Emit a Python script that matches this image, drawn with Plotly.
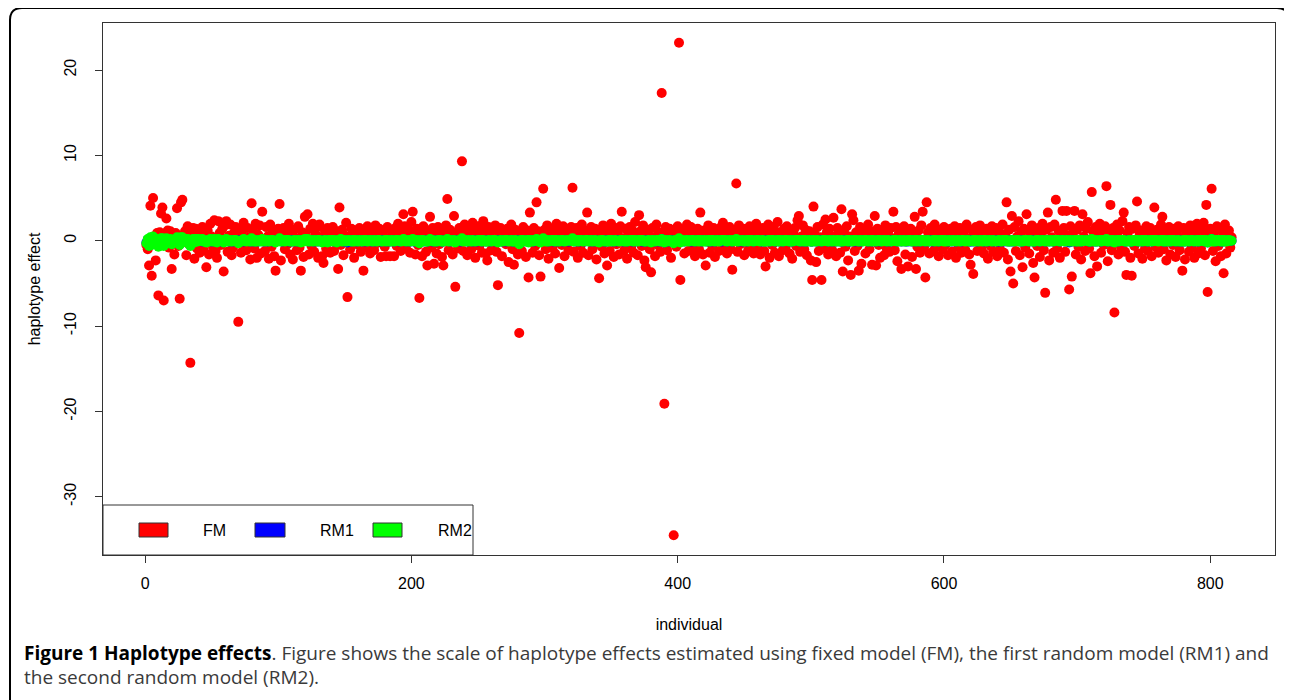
import plotly.graph_objects as go

# ---------------- data ----------------
fm = [
    -0.5, -1.0, -2.9, 4.1, -4.1, 5.0, 0.3, -2.3, 0.9, -6.4, 1.0, 3.2, 3.9, -7.0, 0.6, 2.6, 1.2, -0.8, 1.1, -3.3,
    0.4, -1.6, 0.9, 3.8, -0.6, -6.8, 4.5, 4.8, 0.7, 1.1, -1.7, 1.7, -0.4, -14.3, 0.8, 1.5, -2.1, 1.4, -0.9, 1.3,
    -1.4, 0.6, 1.6, -1.1, 0.3, -3.1, 1.2, -1.6, 2.0, 0.5, -0.7, 2.4, -1.2, -2.0, 2.3, 0.9, -0.5, 1.4, -3.6, 1.8,
    2.3, -1.3, 0.6, 1.9, -1.7, -0.8, 1.0, 1.6, -0.3, -9.5, 0.8, -1.4, 1.2, 2.1, -0.6, -1.1, 1.5, 0.4, -2.2, 4.4,
    1.3, -0.9, 2.0, -2.0, 0.7, 1.8, -1.5, 3.4, 0.2, -1.2, 1.6, 0.5, -2.1, 1.9, -0.7, 1.1, -1.8, -3.5, 0.9, 1.4,
    4.3, -2.3, 0.8, 1.5, -1.0, 1.2, -0.4, 2.0, -1.6, 0.6, -2.2, 1.3, 0.3, -1.1, 1.7, -0.8, -3.5, 1.0, -1.9, 2.8,
    0.5, 3.1, -1.6, 1.4, -0.6, 2.0, -1.3, 0.8, 1.6, -2.0, 1.9, 0.4, -1.8, -2.6, 1.2, -0.9, 1.5, 0.2, -1.4, 0.9,
    1.6, -1.2, 0.7, 1.1, -3.3, 3.9, -0.5, 1.3, -1.7, 0.6, 2.1, -6.6, 0.3, -1.0, 1.4, 0.9, -2.0, 1.2, -0.4, 0.8,
    1.5, -1.3, 0.5, -3.5, 1.0, -0.8, 1.7, 0.2, -1.5, 1.3, 0.6, -1.1, 1.8, -0.3, 0.9, 1.4, -1.9, 0.4, 1.1, -0.7,
    -1.8, 1.6, 0.3, -1.8, 1.2, 0.8, -1.8, 1.5, -0.6, 2.0, 1.1, -1.2, 0.5, 3.1, 1.7, -0.9, 0.7, 1.3, -1.4, 2.2,
    3.4, 0.6, -1.6, 1.4, -0.5, -6.7, 1.0, -1.8, 1.7, 0.3, -1.3, -2.9, 1.2, 2.8, -0.8, 1.5, -2.7, 0.9, -1.5, 1.6,
    -0.4, 1.2, -1.9, -2.9, 0.7, 1.8, 4.9, -1.1, 1.3, 0.4, -1.6, 2.9, -5.4, 1.0, -0.9, 1.5, 0.6, 9.3, -1.2, 1.9,
    0.8, -1.7, 1.4, 0.2, -1.0, 2.1, 1.1, -2.0, 0.5, 1.7, -0.6, 1.3, -1.4, 2.3, 0.9, -1.5, -2.3, 1.6, 0.4, -1.1,
    1.2, -0.7, 1.8, -1.3, -5.2, 0.6, 1.5, -1.8, 0.9, 1.1, -0.4, 1.4, -2.5, 0.7, 1.9, -1.0, -2.8, 1.3, 0.3, -1.6,
    -10.8, 1.0, -1.2, 1.6, 0.5, -1.9, 1.2, -4.3, 3.3, 0.8, -1.4, 1.5, -0.6, 4.5, 1.1, -1.7, -4.2, 0.4, 6.1, 1.3,
    -1.0, 1.8, -2.1, 0.6, 1.4, -0.8, 1.0, -1.5, 2.0, 0.3, -3.2, 1.2, -0.5, 1.7, -1.8, 0.9, 1.3, -1.1, 0.5, 1.6,
    6.2, -1.3, 0.7, 1.5, -2.0, 1.1, -0.6, 1.9, -1.4, 0.4, 1.2, 3.3, -1.7, 0.8, 1.6, -1.0, 0.2, 1.4, -2.2, 0.9,
    -4.4, 1.3, -0.7, 1.8, -1.5, 0.5, -2.9, 1.1, -1.2, 2.0, 0.6, -1.9, 1.5, -0.4, 1.0, -1.6, 1.7, 3.4, 0.3, -1.1,
    1.4, -2.1, 0.9, 1.6, -0.8, 1.2, -1.4, 2.2, 0.5, -1.7, 3.0, 1.1, -0.6, 1.8, -2.3, -3.1, 0.7, 1.3, -1.0, -3.7,
    1.5, 0.4, -1.8, 1.9, -0.5, 1.0, -1.3, 17.3, 0.8, -19.1, 1.6, -1.1, 0.6, 1.4, -2.0, 0.9, -34.5, 1.2, -0.7, 1.7,
    23.2, -4.6, 0.5, 1.3, -1.5, 0.8, 1.9, -1.2, 0.3, 1.6, -0.9, 1.1, -1.8, 0.7, 1.4, -1.0, 3.3, 0.4, -1.6, 1.2,
    -2.9, 0.6, 1.8, -1.4, 1.0, -0.6, 1.5, -1.9, 0.9, 1.3, -1.2, 0.4, 1.7, 2.1, -0.8, 1.1, -1.5, 0.7, 1.6, -1.0,
    -3.4, 1.2, 0.5, 6.7, -1.3, 1.8, -0.4, 0.9, 1.4, -1.7, 0.6, 1.0, -1.1, 1.7, -0.7, 1.3, -1.5, 0.8, 2.0, -0.9,
    1.1, -1.6, 0.4, 1.5, -1.2, -3.0, 0.7, 1.9, -2.0, 1.2, -0.5, 1.6, -1.4, 0.9, 2.2, -1.8, 1.0, 0.3, -1.1, 1.4,
    -0.8, 1.7, 0.6, -1.5, 1.2, -2.1, 0.9, 1.5, -0.6, 2.4, 2.9, -1.3, 0.5, 1.8, -1.0, 1.3, -1.7, 0.8, 1.1, -2.3,
    -4.6, 4.0, 0.7, -2.5, 1.6, -1.2, 0.4, -4.6, 1.9, -0.9, 2.5, 1.0, -1.6, 1.4, 0.6, -1.1, 2.7, 0.3, -1.8, 1.5,
    0.9, -1.4, 3.7, -3.6, 1.2, -0.7, 1.7, -2.3, 0.5, -4.0, 3.1, 2.4, -1.2, 1.0, -0.6, -3.5, 1.6, -2.7, 0.8, 1.3,
    -1.5, 0.4, 1.9, -1.0, 1.1, -2.8, 0.7, 2.9, -2.9, 1.4, -0.5, -2.0, 1.2, 0.6, -1.7, 1.8, -0.9, 1.0, -1.3, 1.5,
    0.3, 3.4, -1.1, 1.6, -2.4, 0.8, 1.3, -3.3, 0.5, 1.7, -1.6, 1.1, -3.0, 0.9, 1.4, -1.9, 0.6, 2.8, -3.3, -0.7,
    1.2, -1.4, 1.8, 3.4, -0.8, -4.3, 4.5, 1.0, -1.5, 1.5, 0.4, -1.2, 1.9, -0.6, 1.1, -1.8, 0.7, 1.3, -1.0, 1.6,
    -0.5, 1.2, -1.7, 0.8, 1.4, -1.3, 0.5, 1.7, -2.0, 1.0, -0.7, 1.5, -1.4, 0.6, 1.1, -1.1, 1.9, 0.3, -1.6, -2.8,
    1.3, -3.9, 0.9, 1.6, -1.2, 0.5, 1.8, -0.9, 1.2, -1.5, 0.7, 1.4, -2.1, 1.0, -0.6, 1.7, -1.3, 0.4, 1.5, -1.8,
    1.1, -1.0, 0.6, 1.9, -1.4, 0.8, 4.5, -2.2, 1.3, -3.6, 2.9, -5.0, 1.6, -1.2, 0.5, 2.3, -1.7, 1.0, -3.1, 1.4,
    -0.8, 3.1, 1.2, -1.5, 0.7, 1.8, -2.6, -4.3, 1.1, -0.6, 1.5, -1.9, 0.9, 2.0, -1.1, -6.1, 1.3, 3.3, -2.3, 1.6,
    0.4, -1.4, 1.9, 4.8, -0.9, 1.2, -2.0, 0.8, 3.5, 1.5, -1.3, 3.5, 0.6, -5.7, 1.7, -4.2, 1.0, 3.5, -1.6, 1.3,
    -0.7, 1.8, -2.2, 3.1, 0.5, -1.2, 1.4, 2.2, -0.9, -3.8, 5.7, 1.1, -1.8, 1.6, -3.0, 0.8, 2.0, -1.4, 1.2, -0.5,
    1.7, 6.4, -2.4, 1.0, 4.2, -1.1, 1.5, -8.4, 0.6, 1.9, -1.6, 1.2, -0.8, 2.3, 3.3, -1.3, -4.0, 0.9, 1.6, -2.0,
    -4.1, 1.4, -0.6, 1.8, 4.6, -1.5, 0.7, 1.2, -2.1, 1.0, -0.9, 1.7, -1.2, 0.5, 1.5, -1.8, 1.1, 3.9, -0.7, 1.3,
    -1.4, 0.8, 1.9, 2.8, -1.0, 1.2, -2.3, 0.6, 1.6, -1.6, 1.0, -0.5, 1.4, -1.9, 0.9, 1.7, -1.1, 0.3, -3.5, 1.5,
    -2.2, 1.1, 0.7, -1.3, 1.8, -0.8, 1.3, -2.0, 0.6, 2.0, -1.5, 1.6, -0.9, 1.2, 2.1, -1.7, 4.2, -6.0, 0.8, 1.4,
    6.1, -1.2, 1.0, -2.4, 1.7, -0.6, 1.3, -1.8, 1.1, -3.8, 1.9, -1.5, 0.5, 1.2, -0.8, 0.4,
]

rm1 = [
    -0.2, 0.1, -0.4, 0.3, -0.4, 0.4, 0.0, -0.3, 0.1, -0.5, 0.1, 0.2, 0.2, -0.5, 0.0, 0.2, 0.1, -0.1, 0.1, -0.3,
    0.0, -0.1, 0.1, 0.3, 0.0, -0.4, 0.3, 0.3, 0.0, 0.1, -0.1, 0.1, 0.0, -0.5, 0.0, 0.1, -0.1, 0.1, 0.0, 0.1,
    0.0, 0.1, -0.1, 0.0, 0.1, -0.1, 0.0, 0.1, 0.0, -0.1, 0.1, 0.0, -0.1, 0.1, 0.0, 0.1, -0.1, 0.0, -0.1, 0.1,
    0.1, 0.0, -0.1, 0.0, 0.1, -0.1, 0.0, 0.1, -0.1, -0.2, 0.0, 0.1, 0.0, -0.1, 0.1, 0.0, 0.0, 0.1, -0.1, 0.2,
    0.0, -0.1, 0.1, 0.0, -0.1, 0.1, 0.0, 0.1, -0.1, 0.0, 0.1, -0.1, 0.0, 0.1, 0.0, -0.1, 0.0, -0.1, 0.1, 0.0,
    0.2, 0.0, -0.1, 0.1, 0.0, 0.0, 0.1, -0.1, 0.0, 0.1, -0.1, 0.0, 0.1, -0.1, 0.0, 0.1, -0.1, 0.0, 0.1, 0.1,
    0.0, 0.1, -0.1, 0.0, 0.1, 0.0, -0.1, 0.1, 0.0, -0.1, 0.1, 0.0, 0.0, -0.1, 0.1, 0.0, 0.1, -0.1, 0.0, 0.1,
    0.0, -0.1, 0.1, 0.0, -0.1, 0.1, 0.0, 0.1, -0.1, 0.0, 0.1, -0.2, 0.0, 0.1, -0.1, 0.0, 0.1, 0.0, -0.1, 0.1,
    0.1, 0.0, -0.1, 0.0, 0.1, -0.1, 0.0, 0.1, 0.0, -0.1, 0.0, 0.1, -0.1, 0.0, 0.1, 0.0, -0.1, 0.1, 0.0, 0.0,
    -0.1, 0.0, 0.1, -0.1, 0.0, 0.1, -0.1, 0.0, 0.1, 0.0, -0.1, 0.0, 0.1, 0.1, 0.0, -0.1, 0.1, 0.0, -0.1, 0.1,
    0.1, -0.1, 0.0, 0.1, 0.0, -0.2, 0.0, 0.1, -0.1, 0.0, 0.1, -0.1, 0.0, 0.1, 0.0, -0.1, 0.1, 0.0, -0.1, 0.1,
    0.0, 0.1, -0.1, -0.1, 0.0, 0.1, 0.1, 0.0, -0.1, 0.0, 0.1, 0.0, -0.1, 0.1, 0.0, 0.0, -0.1, 0.2, 0.0, 0.1,
    0.1, -0.1, 0.0, 0.1, 0.0, -0.1, 0.1, 0.0, -0.1, 0.0, 0.1, 0.0, -0.1, 0.1, 0.0, -0.1, 0.0, 0.1, -0.1, 0.0,
    0.0, 0.1, -0.1, 0.0, -0.1, 0.1, 0.0, -0.1, 0.1, 0.0, -0.1, 0.1, 0.0, 0.0, 0.1, -0.1, -0.1, 0.0, 0.1, 0.0,
    -0.3, 0.0, 0.1, -0.1, 0.0, 0.1, 0.0, -0.1, 0.1, 0.0, 0.0, -0.1, 0.1, 0.1, 0.0, -0.1, -0.1, 0.0, 0.2, 0.0,
    0.0, 0.1, -0.1, 0.0, 0.1, 0.0, -0.1, 0.0, 0.1, -0.1, 0.0, 0.1, 0.0, -0.1, 0.1, 0.0, 0.1, -0.1, 0.0, 0.1,
    0.2, 0.0, -0.1, 0.1, 0.0, -0.1, 0.1, 0.0, 0.0, -0.1, 0.1, 0.1, 0.0, -0.1, 0.1, 0.0, -0.1, 0.1, 0.0, -0.1,
    -0.1, 0.0, 0.1, 0.0, -0.1, 0.1, -0.1, 0.0, 0.1, 0.0, -0.1, 0.1, 0.0, -0.1, 0.1, 0.0, 0.1, 0.1, -0.1, 0.0,
    0.0, -0.1, 0.1, 0.0, 0.1, -0.1, 0.0, 0.1, -0.1, 0.0, 0.1, 0.0, -0.1, 0.1, -0.1, -0.1, 0.1, 0.0, 0.0, -0.1,
    0.0, 0.1, -0.1, 0.0, 0.1, -0.1, 0.0, 0.2, 0.1, -0.2, 0.0, 0.1, -0.1, 0.0, 0.1, -0.1, -0.2, 0.0, 0.1, 0.0,
    0.2, -0.1, 0.1, 0.0, -0.1, 0.1, 0.0, 0.0, 0.1, -0.1, 0.1, 0.0, -0.1, 0.1, 0.0, 0.0, 0.1, -0.1, 0.0, 0.1,
    0.0, -0.1, 0.0, 0.1, -0.1, 0.1, 0.0, -0.1, 0.1, 0.0, 0.0, 0.1, -0.1, 0.0, 0.1, 0.0, -0.1, 0.1, 0.0, 0.0,
    -0.1, 0.0, 0.1, 0.1, 0.0, -0.1, 0.1, 0.0, -0.1, 0.1, 0.0, -0.1, 0.0, 0.1, 0.0, 0.1, -0.1, 0.0, 0.1, 0.0,
    0.0, 0.1, -0.1, 0.0, 0.1, -0.1, 0.0, 0.1, -0.1, 0.0, 0.1, 0.0, -0.1, 0.1, 0.0, -0.1, 0.1, 0.0, -0.1, 0.1,
    0.1, 0.0, 0.0, -0.1, 0.1, -0.1, 0.0, 0.1, 0.0, 0.1, 0.0, -0.1, 0.1, 0.0, -0.1, 0.1, -0.1, 0.0, 0.1, -0.1,
    -0.1, 0.1, 0.0, -0.1, 0.0, 0.1, 0.0, -0.1, 0.1, 0.0, 0.1, 0.0, -0.1, 0.0, 0.1, -0.1, 0.1, 0.0, -0.1, 0.0,
    0.0, -0.1, 0.1, -0.1, 0.0, 0.1, 0.0, -0.1, 0.0, -0.1, 0.1, 0.0, -0.1, 0.1, 0.0, -0.1, 0.0, -0.1, 0.1, 0.0,
    0.1, 0.0, -0.1, 0.1, 0.0, -0.1, 0.0, 0.1, -0.1, 0.0, 0.1, -0.1, 0.0, 0.1, 0.0, 0.0, -0.1, 0.1, 0.0, -0.1,
    0.0, 0.1, 0.0, 0.0, -0.1, 0.1, 0.0, -0.1, 0.1, 0.0, -0.1, 0.1, -0.1, 0.0, 0.1, -0.1, 0.0, 0.1, -0.1, 0.0,
    0.1, -0.1, 0.0, 0.1, 0.0, -0.1, 0.1, 0.0, -0.1, 0.1, 0.0, -0.1, 0.1, 0.0, 0.1, -0.1, 0.0, 0.1, 0.0, 0.1,
    0.0, 0.1, -0.1, 0.0, 0.1, -0.1, 0.0, 0.1, -0.1, 0.0, 0.0, 0.1, -0.1, 0.0, 0.1, 0.0, 0.1, 0.0, -0.1, -0.1,
    0.1, -0.1, 0.0, 0.1, -0.1, 0.0, 0.1, 0.0, 0.1, -0.1, 0.0, 0.1, -0.1, 0.0, 0.0, 0.1, -0.1, 0.0, 0.1, -0.1,
    0.0, -0.1, 0.0, 0.1, -0.1, 0.0, 0.1, -0.1, 0.0, -0.1, 0.1, -0.1, 0.1, 0.0, 0.0, 0.1, -0.1, 0.0, -0.1, 0.1,
    0.0, 0.1, 0.0, -0.1, 0.0, 0.1, -0.1, -0.1, 0.0, 0.0, 0.1, -0.1, 0.0, 0.1, 0.0, -0.1, 0.0, 0.1, -0.1, 0.0,
    0.0, -0.1, 0.1, 0.1, 0.0, 0.1, -0.1, 0.0, 0.1, 0.1, -0.1, 0.1, 0.0, -0.2, 0.1, -0.1, 0.0, 0.1, -0.1, 0.0,
    0.0, 0.1, -0.1, 0.1, 0.0, 0.0, 0.1, 0.0, -0.1, -0.1, 0.1, 0.0, -0.1, 0.1, -0.1, 0.0, 0.1, -0.1, 0.0, 0.0,
    0.0, 0.1, -0.1, 0.0, 0.1, -0.1, 0.0, -0.1, 0.0, 0.1, -0.1, 0.0, 0.0, 0.1, 0.1, -0.1, -0.1, 0.0, 0.1, -0.1,
    -0.1, 0.0, 0.0, 0.1, 0.1, -0.1, 0.0, 0.0, -0.1, 0.1, 0.0, 0.1, -0.1, 0.0, 0.0, -0.1, 0.0, 0.1, 0.0, 0.1,
    0.0, 0.0, 0.1, 0.1, -0.1, 0.0, -0.1, 0.0, 0.1, -0.1, 0.0, 0.0, 0.1, -0.1, 0.0, 0.1, -0.1, 0.0, -0.1, 0.0,
    -0.1, 0.0, 0.0, -0.1, 0.1, 0.0, 0.1, -0.1, 0.0, 0.1, -0.1, 0.0, 0.0, 0.1, 0.1, -0.1, 0.1, -0.2, 0.0, 0.0,
    0.2, 0.0, 0.0, -0.1, 0.1, 0.0, 0.0, -0.1, 0.1, -0.1, 0.1, 0.0, 0.0, 0.0, 0.0, 0.0,
]

rm2 = [
    -0.3, 0.2, -0.6, 0.4, -0.5, 0.5, 0.1, -0.4, 0.2, -0.7, 0.1, 0.3, 0.3, -0.6, 0.0, 0.3, 0.1, -0.2, 0.2, -0.4,
    0.1, -0.2, 0.1, 0.4, -0.1, -0.5, 0.4, 0.4, 0.1, 0.2, -0.2, 0.2, 0.0, -0.6, 0.1, 0.2, -0.2, 0.2, -0.1, 0.2,
    0.1, 0.0, 0.2, -0.1, 0.0, -0.2, 0.1, -0.1, 0.2, 0.0, -0.1, 0.2, -0.1, -0.2, 0.2, 0.1, 0.0, 0.1, -0.2, 0.1,
    0.2, -0.1, 0.0, 0.1, -0.1, 0.0, 0.1, 0.1, 0.0, -0.3, 0.0, -0.1, 0.1, 0.2, 0.0, -0.1, 0.1, 0.0, -0.1, 0.3,
    0.1, -0.1, 0.1, -0.1, 0.0, 0.1, -0.1, 0.2, 0.0, -0.1, 0.1, 0.0, -0.1, 0.1, 0.0, 0.1, -0.1, -0.2, 0.0, 0.1,
    0.3, -0.1, 0.0, 0.1, -0.1, 0.1, 0.0, 0.1, -0.1, 0.0, -0.1, 0.1, 0.0, -0.1, 0.1, 0.0, -0.2, 0.1, -0.1, 0.2,
    0.0, 0.2, -0.1, 0.1, 0.0, -0.1, 0.1, 0.0, -0.1, 0.1, 0.1, 0.0, -0.2, 0.0, 0.1, -0.1, -0.2, 0.1, 0.0, 0.1,
    -0.1, 0.1, 0.0, -0.2, 0.1, 0.0, 0.2, -0.1, 0.0, 0.1, -0.1, 0.0, 0.1, 0.0, -0.1, 0.1, -0.1, 0.1, 0.0, -0.1,
    0.1, 0.0, -0.1, 0.1, 0.0, 0.1, -0.1, 0.0, 0.1, 0.0, -0.1, 0.1, 0.0, -0.1, 0.1, 0.1, 0.0, -0.1, 0.0, 0.1,
    -0.1, 0.1, 0.0, -0.1, 0.1, 0.0, -0.1, 0.1, 0.0, 0.1, 0.0, -0.1, 0.0, 0.2, 0.1, -0.1, 0.0, 0.1, -0.1, 0.1,
    0.2, 0.0, -0.1, 0.1, 0.0, -0.3, 0.1, -0.1, 0.1, 0.0, -0.1, -0.1, 0.1, 0.2, 0.0, 0.1, -0.1, 0.0, -0.1, 0.1,
    0.0, 0.1, -0.1, -0.1, 0.0, 0.1, 0.2, -0.1, 0.1, 0.0, -0.1, 0.1, -0.2, 0.0, 0.0, 0.1, 0.0, 0.3, -0.1, 0.1,
    0.0, -0.1, 0.1, 0.0, -0.1, 0.1, 0.0, -0.1, 0.0, 0.1, 0.0, 0.1, -0.1, 0.1, 0.0, -0.1, -0.1, 0.1, 0.0, -0.1,
    0.1, 0.0, 0.1, -0.1, -0.2, 0.0, 0.1, -0.1, 0.0, 0.1, 0.0, 0.1, -0.1, 0.0, 0.1, -0.1, -0.1, 0.1, 0.0, -0.1,
    -0.4, 0.1, -0.1, 0.1, 0.0, -0.1, 0.1, -0.2, 0.1, 0.0, -0.1, 0.1, 0.0, 0.2, 0.1, -0.1, -0.2, 0.0, 0.3, 0.1,
    -0.1, 0.1, -0.1, 0.0, 0.1, 0.0, 0.1, -0.1, 0.1, 0.0, -0.1, 0.1, 0.0, 0.1, -0.1, 0.0, 0.1, 0.0, 0.0, 0.1,
    0.3, -0.1, 0.0, 0.1, -0.1, 0.1, 0.0, 0.1, -0.1, 0.0, 0.1, 0.1, -0.1, 0.0, 0.1, -0.1, 0.0, 0.1, -0.1, 0.0,
    -0.2, 0.1, 0.0, 0.1, -0.1, 0.0, -0.1, 0.1, -0.1, 0.1, 0.0, -0.1, 0.1, 0.0, 0.0, -0.1, 0.1, 0.1, 0.0, -0.1,
    0.1, -0.1, 0.0, 0.1, 0.0, 0.1, -0.1, 0.1, 0.0, -0.1, 0.1, 0.1, 0.0, 0.1, -0.1, -0.1, 0.0, 0.1, -0.1, -0.2,
    0.1, 0.0, -0.1, 0.1, 0.0, 0.1, -0.1, 0.2, 0.0, -0.2, 0.1, -0.1, 0.0, 0.1, -0.1, 0.0, -0.3, 0.1, 0.0, 0.1,
    0.3, -0.2, 0.0, 0.1, -0.1, 0.0, 0.1, -0.1, 0.0, 0.1, 0.0, 0.1, -0.1, 0.0, 0.1, -0.1, 0.1, 0.0, -0.1, 0.1,
    -0.1, 0.0, 0.1, -0.1, 0.1, 0.0, 0.1, -0.1, 0.0, 0.1, -0.1, 0.0, 0.1, 0.1, 0.0, 0.1, -0.1, 0.0, 0.1, 0.0,
    -0.1, 0.1, 0.0, 0.2, -0.1, 0.1, 0.0, 0.0, 0.1, -0.1, 0.0, 0.1, -0.1, 0.1, 0.0, 0.1, -0.1, 0.0, 0.1, 0.0,
    0.1, -0.1, 0.0, 0.1, -0.1, -0.1, 0.0, 0.1, -0.1, 0.1, 0.0, 0.1, -0.1, 0.0, 0.1, -0.1, 0.1, 0.0, -0.1, 0.1,
    0.0, 0.1, 0.0, -0.1, 0.1, -0.1, 0.0, 0.1, 0.0, 0.1, 0.1, -0.1, 0.0, 0.1, -0.1, 0.1, -0.1, 0.0, 0.1, -0.1,
    -0.1, 0.1, 0.0, -0.1, 0.1, 0.0, 0.0, -0.1, 0.1, 0.0, 0.1, 0.0, -0.1, 0.1, 0.0, -0.1, 0.1, 0.0, -0.1, 0.1,
    0.0, -0.1, 0.1, -0.1, 0.0, 0.0, 0.1, -0.1, 0.1, 0.0, -0.1, 0.1, 0.0, 0.1, 0.0, -0.1, 0.1, 0.0, -0.1, 0.1,
    0.0, 0.1, -0.1, 0.0, 0.1, -0.1, 0.1, 0.0, -0.1, 0.1, 0.0, 0.1, -0.1, 0.0, 0.1, 0.0, -0.1, 0.1, 0.0, -0.1,
    0.0, 0.1, 0.0, 0.1, -0.1, 0.0, 0.1, -0.1, 0.0, 0.1, -0.1, 0.0, 0.1, 0.0, 0.1, -0.1, 0.0, 0.1, -0.1, 0.1,
    0.0, -0.1, 0.1, 0.0, 0.1, -0.1, 0.0, 0.1, -0.1, 0.0, 0.0, 0.1, -0.1, 0.1, 0.0, -0.1, 0.1, 0.0, 0.1, -0.1,
    0.1, -0.1, 0.0, 0.1, -0.1, 0.0, 0.1, 0.0, -0.1, 0.1, 0.0, -0.1, 0.1, 0.0, 0.1, -0.1, 0.0, 0.1, -0.1, 0.0,
    0.0, 0.1, -0.1, 0.1, 0.0, -0.1, 0.1, 0.0, -0.1, 0.1, 0.1, -0.1, 0.0, 0.1, 0.0, -0.1, 0.1, 0.0, -0.1, 0.0,
    0.1, 0.0, -0.1, 0.1, 0.0, 0.1, 0.1, -0.1, 0.0, -0.1, 0.1, 0.0, -0.1, 0.1, 0.0, 0.1, -0.1, 0.0, -0.1, 0.1,
    0.0, 0.1, 0.0, -0.1, 0.1, 0.0, -0.1, -0.1, 0.1, 0.0, 0.1, -0.1, 0.0, 0.1, 0.0, -0.1, 0.1, 0.0, -0.1, 0.1,
    0.0, -0.1, 0.1, 0.1, 0.0, 0.1, -0.1, 0.0, 0.1, 0.0, -0.1, 0.1, 0.0, -0.1, 0.1, -0.1, 0.0, 0.1, -0.1, 0.1,
    -0.1, 0.1, -0.1, 0.1, 0.0, 0.0, 0.1, 0.0, -0.1, -0.1, 0.2, 0.0, -0.1, 0.1, -0.1, 0.0, 0.1, -0.1, 0.1, 0.0,
    0.1, 0.2, -0.1, 0.0, 0.1, -0.1, 0.1, -0.2, 0.0, 0.1, -0.1, 0.1, 0.0, 0.1, 0.1, -0.1, -0.1, 0.0, 0.1, -0.1,
    -0.1, 0.1, 0.0, 0.1, 0.1, -0.1, 0.0, 0.1, -0.1, 0.1, 0.0, 0.1, -0.1, 0.0, 0.1, -0.1, 0.1, 0.1, 0.0, 0.1,
    -0.1, 0.0, 0.1, 0.1, -0.1, 0.1, -0.1, 0.0, 0.1, -0.1, 0.1, 0.0, 0.1, -0.1, 0.0, 0.1, -0.1, 0.0, -0.1, 0.1,
    -0.1, 0.1, 0.0, -0.1, 0.1, 0.0, 0.1, -0.1, 0.0, 0.1, -0.1, 0.1, 0.0, 0.1, 0.1, -0.1, 0.1, -0.2, 0.0, 0.1,
    0.2, -0.1, 0.1, -0.1, 0.1, 0.0, 0.1, -0.1, 0.1, -0.1, 0.1, -0.1, 0.0, 0.1, 0.0, 0.0,
]

series_names = ["FM", "RM1", "RM2"]
series_colors = ["#FF0000", "#0000FF", "#00FF00"]
x_ticks = [0, 200, 400, 600, 800]
y_ticks = [-30, -20, -10, 0, 10, 20]
x_title = "individual"
y_title = "haplotype effect"
caption_bold = "Figure 1 Haplotype effects"
caption_rest = (". Figure shows the scale of haplotype effects estimated using fixed model (FM), "
                "the first random model (RM1) and")
caption_line2 = "the second random model (RM2)."

# ---------------- figure ----------------
OFF = 8                      # page body margin of the html page
W, H = 1292 - OFF, 700 - OFF
L, R, T, B = 103 - OFF, 17, 23 - OFF, 145
pw, ph = W - L - R, H - T - B


def px(xp):
    """page pixel x -> paper coordinate"""
    return (xp - OFF - L) / pw


def py(yp):
    """page pixel y -> paper coordinate"""
    return (H - B - (yp - OFF)) / ph


fig = go.Figure()
for name, vals, col in zip(series_names, [fm, rm1, rm2], series_colors):
    fig.add_trace(go.Scatter(
        x=list(range(1, len(vals) + 1)), y=vals, mode="markers", name=name,
        marker=dict(color=col, size=10, line=dict(width=0)),
        showlegend=False, hoverinfo="x+y+name",
    ))

n = len(fm)
xpad = 0.04 * (n - 1)
ymin, ymax = min(fm), max(fm)
ypad = 0.04 * (ymax - ymin)

axis_font = dict(family="Liberation Sans, Arial, sans-serif", size=16, color="#000000")

fig.update_xaxes(
    range=[1 - xpad, n + xpad], tickvals=x_ticks, ticktext=[str(v) for v in x_ticks],
    showgrid=False, zeroline=False, showline=True, mirror=True, linecolor="#333333", linewidth=1,
    ticks="outside", ticklen=7, tickcolor="#333333", tickfont=axis_font, ticklabelstandoff=7,
    title=dict(text=x_title, font=axis_font, standoff=27),
)
fig.update_yaxes(
    range=[ymin - ypad, ymax + ypad], tickvals=y_ticks, ticktext=[str(v) for v in y_ticks],
    showgrid=False, zeroline=False, showline=True, mirror=True, linecolor="#333333", linewidth=1,
    ticks="outside", ticklen=7, tickcolor="#333333", tickfont=axis_font, tickangle=-90,
    ticklabelstandoff=13,
    title=dict(text=y_title, font=axis_font, standoff=16),
)

shapes = []
# legend box (bottom-left, R style)
shapes.append(dict(type="rect", xref="paper", yref="paper", x0=px(103), x1=px(473), y0=py(555), y1=py(505),
                   line=dict(color="#333333", width=1), fillcolor="white", layer="above"))
legend_rects = [(139, 168), (255, 285), (373, 402)]
legend_text_x = [214, 337, 455]
annotations = []
for (a, b), tx, name, col in zip(legend_rects, legend_text_x, series_names, series_colors):
    shapes.append(dict(type="rect", xref="paper", yref="paper", x0=px(a), x1=px(b), y0=py(537), y1=py(523),
                       line=dict(color="#333333", width=1), fillcolor=col, layer="above"))
    annotations.append(dict(xref="paper", yref="paper", x=px(tx), y=py(530), text=name, showarrow=False,
                            xanchor="center", yanchor="middle",
                            font=dict(family="Liberation Sans, Arial, sans-serif", size=16, color="#000000")))

# outer rounded frame of the journal figure
r = 12
x0, x1, y0, y1 = 10, 1289, 8, 712
path = (f"M {px(x0)},{py(y1)} L {px(x0)},{py(y0 + r)} Q {px(x0)},{py(y0)} {px(x0 + r)},{py(y0)} "
        f"L {px(x1 - r)},{py(y0)} Q {px(x1)},{py(y0)} {px(x1)},{py(y0 + r)} L {px(x1)},{py(y1)}")
shapes.append(dict(type="path", xref="paper", yref="paper", path=path,
                   line=dict(color="#000000", width=2), layer="above"))

cap_font = dict(family="Open Sans, Noto Sans, sans-serif", size=19, color="#3a3a3a")
annotations.append(dict(xref="paper", yref="paper", x=px(22), y=py(653),
                        text=f"<b><span style='color:#000000'>{caption_bold}</span></b>{caption_rest}",
                        showarrow=False, xanchor="left", yanchor="middle", font=cap_font, align="left"))
annotations.append(dict(xref="paper", yref="paper", x=px(22), y=py(677), text=caption_line2,
                        showarrow=False, xanchor="left", yanchor="middle", font=cap_font, align="left"))

fig.update_layout(
    width=W, height=H, autosize=False,
    margin=dict(l=L, r=R, t=T, b=B, pad=0),
    paper_bgcolor="white", plot_bgcolor="white",
    shapes=shapes, annotations=annotations, showlegend=False,
)

fig.write_html("out.html")
